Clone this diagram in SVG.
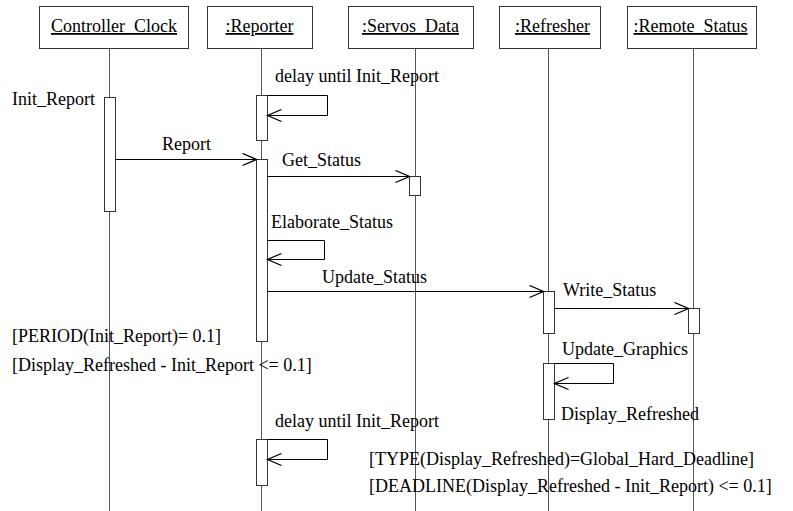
<svg xmlns="http://www.w3.org/2000/svg" width="793" height="511" viewBox="0 0 793 511" font-family="'Liberation Serif', 'Times New Roman', 'DejaVu Serif', serif" font-size="18">
  <style>
    .head { fill: #fff; stroke: #333; stroke-width: 1; }
    .name { text-anchor: middle; text-decoration: underline; }
    .life { stroke: #555; stroke-width: 1; fill: none; }
    .act { fill: #fff; stroke: #333; stroke-width: 1; }
    .msg { stroke: #000; stroke-width: 1; fill: none; marker-end: url(#open); }
  </style>
  <defs>
    <marker id="open" markerUnits="userSpaceOnUse" markerWidth="20" markerHeight="16" refX="15" refY="7" orient="auto">
      <path d="M1,1 L15,7 L1,13" fill="none" stroke="#000" stroke-width="1.3"/>
    </marker>
  </defs>
  <rect width="793" height="511" fill="#fff"/>

  <!-- lifelines -->
  <g id="lifelines">
    <line class="life" x1="109.5" y1="48" x2="109.5" y2="511"/>
    <line class="life" x1="261.5" y1="48" x2="261.5" y2="511"/>
    <line class="life" x1="415.5" y1="48" x2="415.5" y2="511"/>
    <line class="life" x1="548.5" y1="48" x2="548.5" y2="511"/>
    <line class="life" x1="693.5" y1="48" x2="693.5" y2="511"/>
  </g>

  <!-- participants -->
  <g id="controller_clock">
    <rect class="head" x="39.5" y="6.5" width="149" height="42"/>
    <text class="name" x="114" y="32">Controller_Clock</text>
    <rect class="act" x="104.5" y="97.5" width="11" height="114"/>
  </g>
  <g id="reporter">
    <rect class="head" x="207.5" y="6.5" width="105" height="42"/>
    <text class="name" x="259.5" y="32">:Reporter</text>
    <rect class="act" x="256.5" y="95.5" width="11" height="45"/>
    <rect class="act" x="256.5" y="159.5" width="11" height="182"/>
    <rect class="act" x="256.5" y="439.5" width="11" height="46"/>
  </g>
  <g id="servos_data">
    <rect class="head" x="348.5" y="6.5" width="125" height="42"/>
    <text class="name" x="410.5" y="32">:Servos_Data</text>
    <rect class="act" x="409.5" y="176.5" width="11" height="19"/>
  </g>
  <g id="refresher">
    <rect class="head" x="499.5" y="6.5" width="101" height="42"/>
    <text class="name" x="552.5" y="32">:Refresher</text>
    <rect class="act" x="543.5" y="291.5" width="11" height="42"/>
    <rect class="act" x="543.5" y="363.5" width="11" height="56"/>
  </g>
  <g id="remote_status">
    <rect class="head" x="627.5" y="6.5" width="129" height="42"/>
    <text class="name" x="690.5" y="32">:Remote_Status</text>
    <rect class="act" x="688.5" y="308.5" width="11" height="25"/>
  </g>

  <!-- messages -->
  <g id="connectors">
    <path class="msg" d="M267.5,95.5 H327.5 V115.5 H267.5"/>
    <path class="msg" d="M115.5,159.5 H256.5"/>
    <path class="msg" d="M267.5,176.5 H409.5"/>
    <path class="msg" d="M267.5,240.5 H324.5 V259.5 H267.5"/>
    <path class="msg" d="M267.5,291.5 H543.5"/>
    <path class="msg" d="M554.5,308.5 H688.5"/>
    <path class="msg" d="M554.5,363.5 H613.5 V383.5 H554.5"/>
    <path class="msg" d="M267.5,439.5 H327.5 V459.5 H267.5"/>
  </g>

  <!-- labels -->
  <g id="labels">
    <text x="12" y="105">Init_Report</text>
    <text x="275" y="82">delay until Init_Report</text>
    <text x="162" y="150">Report</text>
    <text x="282" y="166">Get_Status</text>
    <text x="271" y="228">Elaborate_Status</text>
    <text x="322" y="283">Update_Status</text>
    <text x="563" y="296">Write_Status</text>
    <text x="562" y="355">Update_Graphics</text>
    <text x="561" y="420">Display_Refreshed</text>
    <text x="275" y="427">delay until Init_Report</text>
    <text x="12" y="342">[PERIOD(Init_Report)= 0.1]</text>
    <text x="12" y="371">[Display_Refreshed - Init_Report &lt;= 0.1]</text>
    <text x="369" y="465">[TYPE(Display_Refreshed)=Global_Hard_Deadline]</text>
    <text x="369" y="492">[DEADLINE(Display_Refreshed - Init_Report) &lt;= 0.1]</text>
  </g>
</svg>
